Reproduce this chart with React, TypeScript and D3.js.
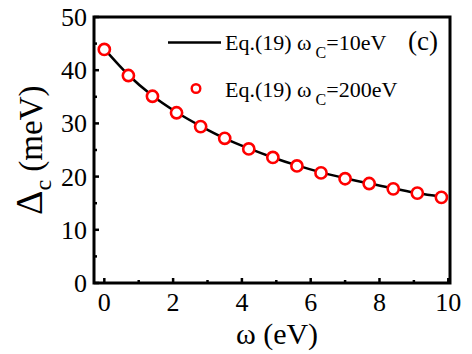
import React, { useEffect, useRef } from 'react';
import * as d3 from 'd3';

// omega (eV) sample points and gap values
const omegaValues = [0, 0.7, 1.4, 2.1, 2.8, 3.5, 4.2, 4.9, 5.6, 6.3, 7.0, 7.7, 8.4, 9.1, 9.8];
const gap200 = [43.9, 39.0, 35.1, 32.0, 29.4, 27.2, 25.2, 23.6, 22.0, 20.7, 19.6, 18.7, 17.7, 16.9, 16.1];
const gap10 = [44.0, 39.1, 35.2, 32.1, 29.5, 27.2, 25.3, 23.6, 22.1, 20.8, 19.7, 18.7, 17.8, 16.9, 16.2];
const xTicks = [0, 2, 4, 6, 8, 10];
const yTicks = [0, 10, 20, 30, 40, 50];

const W = 472;
const H = 354;
const FONT = '"Liberation Serif", "Times New Roman", serif';

const App: React.FC = () => {
  const svgRef = useRef<SVGSVGElement>(null);

  useEffect(() => {
    if (!svgRef.current) return;
    const svg = d3.select(svgRef.current);
    svg.selectAll('*').remove();

    const left = 94, right = 450, top = 17, bottom = 283;

    const x = d3.scaleLinear().domain([-0.3, 10.05]).range([left, right]);
    const y = d3.scaleLinear().domain([0, 50]).range([bottom, top]);

    // frame
    svg.append('rect')
      .attr('x', left).attr('y', top)
      .attr('width', right - left).attr('height', bottom - top)
      .attr('fill', 'none').attr('stroke', '#000').attr('stroke-width', 3);

    // x ticks (inward), minor every 1
    d3.range(0, 11).forEach(v => {
      const major = v % 2 === 0;
      svg.append('line')
        .attr('x1', x(v)).attr('x2', x(v))
        .attr('y1', bottom).attr('y2', bottom - (major ? 5 : 3))
        .attr('stroke', '#000').attr('stroke-width', 2.5);
    });
    // y ticks (inward), minor every 5
    d3.range(0, 51, 5).forEach(v => {
      const major = v % 10 === 0;
      svg.append('line')
        .attr('x1', left).attr('x2', left + (major ? 5 : 3))
        .attr('y1', y(v)).attr('y2', y(v))
        .attr('stroke', '#000').attr('stroke-width', 2.5);
    });

    svg.append('g').selectAll('text')
      .data(xTicks).enter().append('text')
      .attr('x', d => x(d)).attr('y', 311)
      .attr('text-anchor', 'middle')
      .style('font-family', FONT).style('font-size', '26px')
      .text(d => d);

    svg.append('g').selectAll('text')
      .data(yTicks).enter().append('text')
      .attr('x', 87).attr('y', d => y(d) + 9)
      .attr('text-anchor', 'end')
      .style('font-family', FONT).style('font-size', '26px')
      .text(d => d);

    // curve (wC = 10 eV)
    const line = d3.line<number>()
      .x((_, i) => x(omegaValues[i]))
      .y(d => y(d))
      .curve(d3.curveMonotoneX);
    svg.append('path')
      .datum(gap10)
      .attr('d', line)
      .attr('fill', 'none').attr('stroke', '#000').attr('stroke-width', 2.5);

    // circles (wC = 200 eV)
    svg.append('g').selectAll('circle')
      .data(gap200).enter().append('circle')
      .attr('cx', (_, i) => x(omegaValues[i]))
      .attr('cy', d => y(d))
      .attr('r', 5.6)
      .attr('fill', '#fff').attr('stroke', '#ff0000').attr('stroke-width', 2.6);

    // legend
    svg.append('line')
      .attr('x1', 168).attr('x2', 221).attr('y1', 42.5).attr('y2', 42.5)
      .attr('stroke', '#000').attr('stroke-width', 2.5);
    svg.append('circle')
      .attr('cx', 196).attr('cy', 88.5).attr('r', 4.3)
      .attr('fill', '#fff').attr('stroke', '#ff0000').attr('stroke-width', 2.4);

    const legendText = (yy: number, val: string) => {
      const t = svg.append('text')
        .attr('x', 225).attr('y', yy)
        .style('font-family', FONT).style('font-size', '22px');
      t.append('tspan').text('Eq.(19) ω');
      t.append('tspan').attr('dx', 4).attr('dy', 8).style('font-size', '16px').text('C');
      t.append('tspan').attr('dy', -8).text(val);
    };
    legendText(49.5, '=10eV');
    legendText(96.5, '=200eV');

    svg.append('text')
      .attr('x', 408).attr('y', 50)
      .style('font-family', FONT).style('font-size', '27px')
      .text('(c)');

    // axis titles
    svg.append('text')
      .attr('x', 277).attr('y', 344)
      .attr('text-anchor', 'middle')
      .style('font-family', FONT).style('font-size', '30px')
      .text('ω (eV)');

    const yl = svg.append('text')
      .attr('transform', 'translate(42,215) rotate(-90)')
      .style('font-family', FONT).style('font-size', '38px');
    yl.append('tspan').text('Δ');
    yl.append('tspan').attr('dy', 9).style('font-size', '24px').text('c');
    yl.append('tspan').attr('dy', -9).style('font-size', '33px').text(' (meV)');
  }, []);

  return (
    <div style={{ position: 'fixed', left: 0, top: 0 }}>
      <svg ref={svgRef} width={W} height={H} style={{ display: 'block', background: '#fff' }} />
    </div>
  );
};

export default App;
